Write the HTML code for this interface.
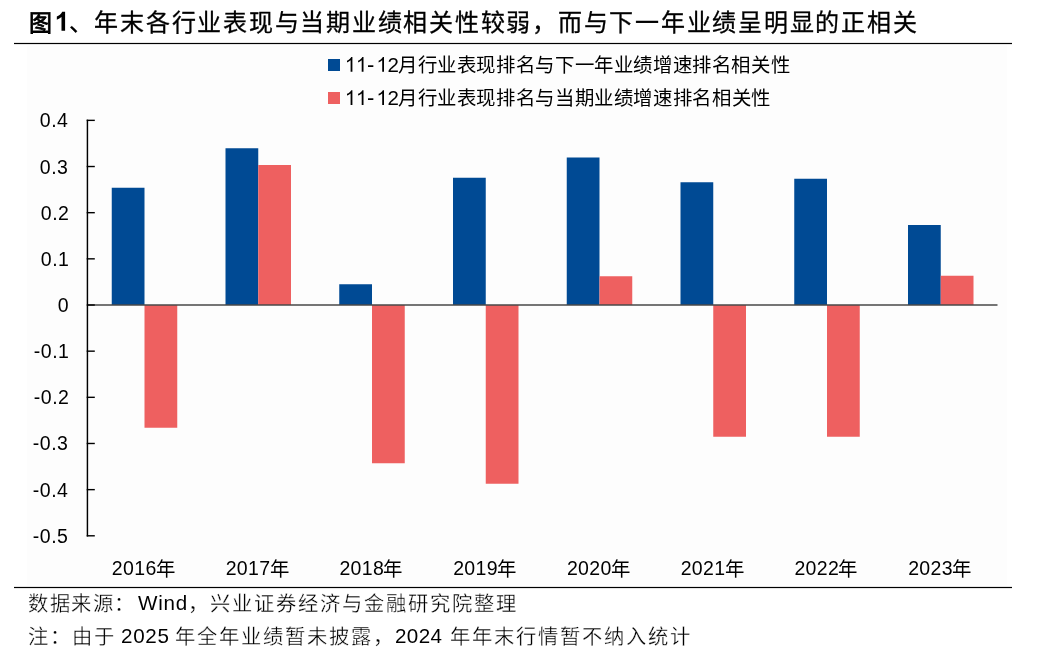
<!DOCTYPE html>
<html lang="zh-CN"><head><meta charset="utf-8"><title>chart</title>
<style>
html,body{margin:0;padding:0;background:#fff;}
body{width:1064px;height:657px;overflow:hidden;position:relative;font-family:"Liberation Sans",sans-serif;color:#000;}
svg{will-change:transform;position:absolute;left:0;top:0;display:block;}
text{font-family:"Liberation Sans",sans-serif;fill:#000;white-space:pre;}
</style></head><body>
<svg width="1064" height="657" viewBox="0 0 1064 657">
<rect x="27" y="45.5" width="980" height="540" fill="#fdfdfd"/>
<rect x="14" y="42.9" width="998" height="1.2" fill="#000"/>
<rect x="14" y="586.9" width="998" height="1.2" fill="#000"/>
<rect x="111.75" y="187.75" width="32.75" height="117.25" fill="#004a94"/>
<rect x="144.50" y="305.00" width="32.75" height="122.75" fill="#ee6060"/>
<rect x="225.50" y="148.25" width="32.75" height="156.75" fill="#004a94"/>
<rect x="258.25" y="165.00" width="32.75" height="140.00" fill="#ee6060"/>
<rect x="339.25" y="284.25" width="32.75" height="20.75" fill="#004a94"/>
<rect x="372.00" y="305.00" width="32.75" height="158.25" fill="#ee6060"/>
<rect x="453.00" y="177.75" width="32.75" height="127.25" fill="#004a94"/>
<rect x="485.75" y="305.00" width="32.75" height="178.75" fill="#ee6060"/>
<rect x="566.75" y="157.50" width="32.75" height="147.50" fill="#004a94"/>
<rect x="599.50" y="276.25" width="32.75" height="28.75" fill="#ee6060"/>
<rect x="680.50" y="182.25" width="32.75" height="122.75" fill="#004a94"/>
<rect x="713.25" y="305.00" width="32.75" height="131.75" fill="#ee6060"/>
<rect x="794.25" y="178.75" width="32.75" height="126.25" fill="#004a94"/>
<rect x="827.00" y="305.00" width="32.75" height="131.75" fill="#ee6060"/>
<rect x="908.00" y="225.00" width="32.75" height="80.00" fill="#004a94"/>
<rect x="940.75" y="275.75" width="32.75" height="29.25" fill="#ee6060"/>
<rect x="87.50" y="304.25" width="910.00" height="1.5" fill="#484848"/>
<rect x="86.70" y="119.66" width="1.45" height="416.84" fill="#000"/>
<rect x="86.70" y="535.10" width="8.1" height="1.4" fill="#000"/>
<rect x="86.70" y="488.94" width="8.1" height="1.4" fill="#000"/>
<rect x="86.70" y="442.78" width="8.1" height="1.4" fill="#000"/>
<rect x="86.70" y="396.62" width="8.1" height="1.4" fill="#000"/>
<rect x="86.70" y="350.46" width="8.1" height="1.4" fill="#000"/>
<rect x="86.70" y="304.30" width="8.1" height="1.4" fill="#000"/>
<rect x="86.70" y="258.14" width="8.1" height="1.4" fill="#000"/>
<rect x="86.70" y="211.98" width="8.1" height="1.4" fill="#000"/>
<rect x="86.70" y="165.82" width="8.1" height="1.4" fill="#000"/>
<rect x="86.70" y="119.66" width="8.1" height="1.4" fill="#000"/>
<rect x="328" y="59" width="12" height="12" fill="#004a94"/>
<rect x="328" y="92" width="12" height="12" fill="#ee6060"/>
<text x="29.00" y="30.60" font-size="23.0" stroke="#000" stroke-width="0.85">图</text>
<text x="68.50" y="31.30" font-size="24" stroke="#000" stroke-width="0.3" letter-spacing="1.755">、年末各行业表现与当期业绩相关性较弱，而与下一年业绩呈明显的正相关</text>
<text x="367.00" y="71.80" font-size="22">-</text>
<text x="387.50" y="71.80" font-size="20.5">2</text>
<text x="398.00" y="72.00" font-size="19.4" letter-spacing="0.616">月行业表现排名与下一年业绩增速排名相关性</text>
<text x="367.00" y="104.90" font-size="22">-</text>
<text x="387.50" y="104.90" font-size="20.5">2</text>
<text x="398.00" y="105.10" font-size="19.4" letter-spacing="0.620">月行业表现排名与当期业绩增速排名相关性</text>
<text x="28.00" y="610.60" font-size="20.3" stroke="#fff" stroke-width="0.3" letter-spacing="1.550">数据来源：</text>
<text x="138.00" y="610.30" font-size="20.6" letter-spacing="0.780">Wind</text>
<text x="187.50" y="610.60" font-size="20.3" stroke="#fff" stroke-width="0.3" letter-spacing="2.006">，兴业证券经济与金融研究院整理</text>
<text x="28.00" y="644.20" font-size="20.3" stroke="#fff" stroke-width="0.3" letter-spacing="1.920">注：由于</text>
<text x="121.00" y="642.80" font-size="20.6" letter-spacing="0.720">2025</text>
<text x="174.50" y="644.20" font-size="20.3" stroke="#fff" stroke-width="0.3" letter-spacing="2.070">年全年业绩暂未披露</text>
<text x="372.50" y="644.20" font-size="20.3" stroke="#fff" stroke-width="0.3">，</text>
<text x="395.00" y="642.80" font-size="20.6" letter-spacing="0.360">2024</text>
<text x="449.50" y="644.20" font-size="20.3" stroke="#fff" stroke-width="0.3" letter-spacing="2.088">年年末行情暂不纳入统计</text>
<text x="32.80" y="543.00" font-size="19.5" letter-spacing="0.500">-0.5</text>
<text x="32.80" y="497.00" font-size="19.5" letter-spacing="0.500">-0.4</text>
<text x="32.80" y="450.00" font-size="19.5" letter-spacing="0.500">-0.3</text>
<text x="33.80" y="404.00" font-size="19.5" letter-spacing="0.500">-0.2</text>
<text x="33.80" y="358.00" font-size="19.5" letter-spacing="0.500">-0.1</text>
<text x="57.80" y="312.00" font-size="19.5" letter-spacing="0.500">0</text>
<text x="40.80" y="266.00" font-size="19.5" letter-spacing="0.500">0.1</text>
<text x="40.80" y="220.00" font-size="19.5" letter-spacing="0.500">0.2</text>
<text x="39.80" y="174.00" font-size="19.5" letter-spacing="0.500">0.3</text>
<text x="39.80" y="127.00" font-size="19.5" letter-spacing="0.500">0.4</text>
<text x="111.87" y="574.50" font-size="19.5" letter-spacing="0.360">2016</text>
<text x="155.88" y="576.00" font-size="19.4">年</text>
<text x="225.63" y="574.50" font-size="19.5" letter-spacing="0.360">2017</text>
<text x="269.63" y="576.00" font-size="19.4">年</text>
<text x="339.38" y="574.50" font-size="19.5" letter-spacing="0.360">2018</text>
<text x="383.38" y="576.00" font-size="19.4">年</text>
<text x="453.13" y="574.50" font-size="19.5" letter-spacing="0.360">2019</text>
<text x="497.13" y="576.00" font-size="19.4">年</text>
<text x="566.88" y="574.50" font-size="19.5" letter-spacing="0.360">2020</text>
<text x="610.87" y="576.00" font-size="19.4">年</text>
<text x="680.63" y="574.50" font-size="19.5" letter-spacing="0.360">2021</text>
<text x="724.62" y="576.00" font-size="19.4">年</text>
<text x="794.38" y="574.50" font-size="19.5" letter-spacing="0.360">2022</text>
<text x="838.37" y="576.00" font-size="19.4">年</text>
<text x="908.13" y="574.50" font-size="19.5" letter-spacing="0.360">2023</text>
<text x="952.12" y="576.00" font-size="19.4">年</text>
<path transform="translate(54.75,30.70) scale(0.01284,-0.01284)" d="M806 0H525V1059Q371 915 162 846V1101Q272 1137 401 1237.5Q530 1338 578 1472H806Z" fill="#000"/>
<path transform="translate(344.78,71.80) scale(0.00999,-0.00999)" d="M763 0H583V1147Q518 1085 412.5 1023Q307 961 223 930V1104Q374 1175 487 1276Q600 1377 647 1472H763Z" fill="#000"/>
<path transform="translate(355.88,71.80) scale(0.00999,-0.00999)" d="M763 0H583V1147Q518 1085 412.5 1023Q307 961 223 930V1104Q374 1175 487 1276Q600 1377 647 1472H763Z" fill="#000"/>
<path transform="translate(376.38,71.80) scale(0.00999,-0.00999)" d="M763 0H583V1147Q518 1085 412.5 1023Q307 961 223 930V1104Q374 1175 487 1276Q600 1377 647 1472H763Z" fill="#000"/>
<path transform="translate(344.78,104.90) scale(0.00999,-0.00999)" d="M763 0H583V1147Q518 1085 412.5 1023Q307 961 223 930V1104Q374 1175 487 1276Q600 1377 647 1472H763Z" fill="#000"/>
<path transform="translate(355.88,104.90) scale(0.00999,-0.00999)" d="M763 0H583V1147Q518 1085 412.5 1023Q307 961 223 930V1104Q374 1175 487 1276Q600 1377 647 1472H763Z" fill="#000"/>
<path transform="translate(376.38,104.90) scale(0.00999,-0.00999)" d="M763 0H583V1147Q518 1085 412.5 1023Q307 961 223 930V1104Q374 1175 487 1276Q600 1377 647 1472H763Z" fill="#000"/>
</svg>
</body></html>
